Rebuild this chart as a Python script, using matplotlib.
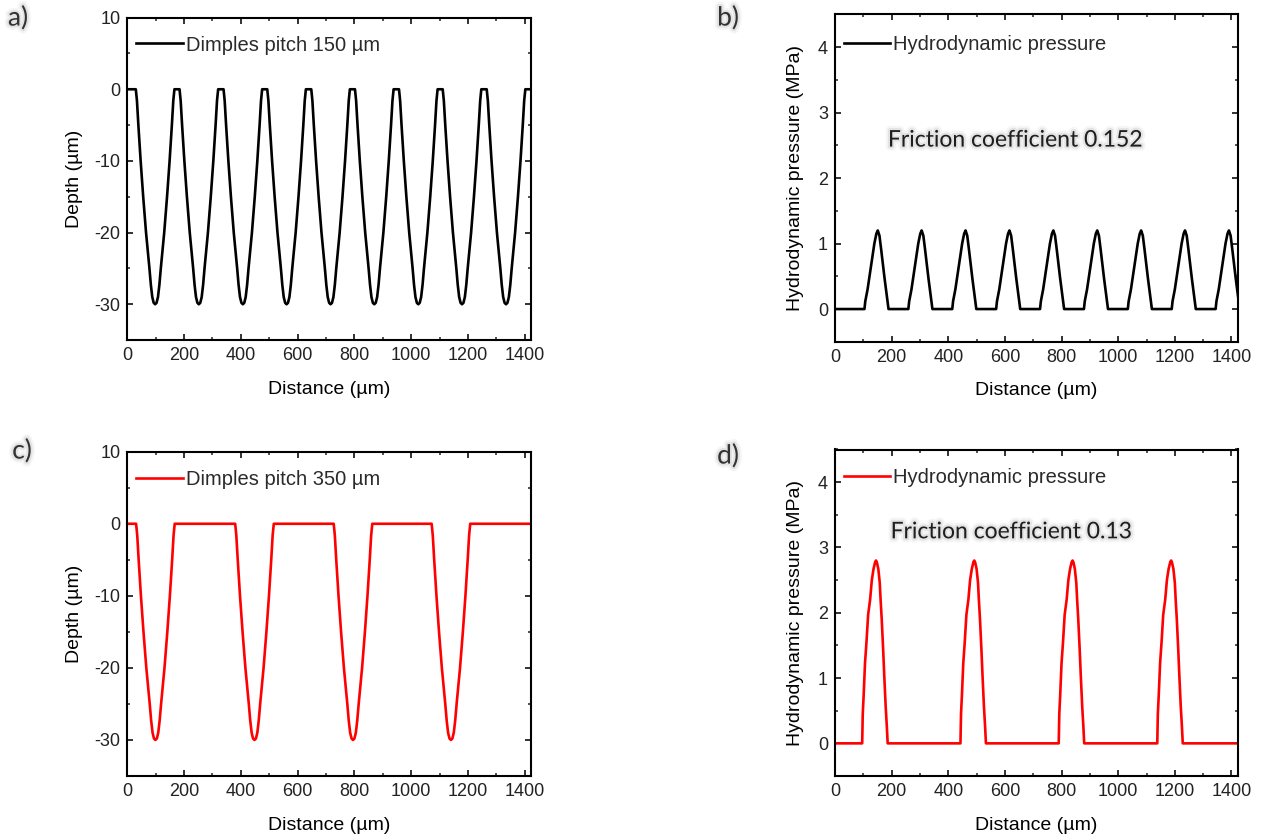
"""Dimple depth profiles and the hydrodynamic pressure they produce (2x2 panels)."""
import matplotlib
matplotlib.use("Agg")
import matplotlib.pyplot as plt
import matplotlib.patheffects as pe
from matplotlib.ticker import MultipleLocator

plt.rcParams.update({
    "font.family": "Liberation Sans",
    "font.size": 13,
    "axes.unicode_minus": False,
    "axes.linewidth": 1.5,
    "xtick.direction": "in", "ytick.direction": "in",
    "xtick.top": True, "ytick.right": True,
    "xtick.major.size": 4, "ytick.major.size": 4,
    "xtick.minor.size": 2.2, "ytick.minor.size": 2.2,
    "xtick.major.width": 1.3, "ytick.major.width": 1.3,
    "xtick.minor.width": 1.1, "ytick.minor.width": 1.1,
    "xtick.labelsize": 13, "ytick.labelsize": 13,
    "xtick.color": "#222222", "ytick.color": "#222222",
})

# one dimple cross-section, offset from centre (um) -> depth (um)
DIMPLE_OFFSET = [-68, -64, -59, -51, -42, -32, -20, -15, -10, -5, 0,
                 5, 10, 15, 20, 32, 42, 51, 59, 64, 68]
DIMPLE_DEPTH = [0, -1.6, -5, -10, -15, -20, -25, -27.3, -29, -29.8, -30,
                -29.8, -29, -27.3, -25, -20, -15, -10, -5, -1.6, 0]

CENTRES_150 = [98, 252, 407, 561, 716, 870, 1025, 1179, 1334]
CENTRES_350 = [99, 448, 795, 1140]

# pressure bump, offset from peak (um) -> MPa
P150_OFFSET = [-47, -44, -36, -24, -12, -5, 0, 6, 12, 24, 38]
P150_VALUE = [0, 0.12, 0.3, 0.65, 1.0, 1.15, 1.2, 1.12, 0.91, 0.47, 0]
PEAKS_150 = [151, 306, 461, 616, 771, 926, 1081, 1236, 1391]

P350_OFFSET = [-49, -47, -44, -39, -34, -28, -21, -15, -9, -3, 0, 3, 8, 13, 16,
               20, 25, 29, 34, 38, 41]
P350_VALUE = [0, 0.45, 0.72, 1.23, 1.54, 1.97, 2.2, 2.5, 2.67, 2.78, 2.8, 2.77,
              2.67, 2.46, 2.2, 1.9, 1.44, 1.03, 0.56, 0.26, 0]
PEAKS_350 = [145, 492, 839, 1187]

X_MAX = 1422
FRICTION = {"b": "0.152", "d": "0.13"}

W, H = 1261, 836


def _series(centres, offsets, values):
    x, y = [0], [0]
    for c in centres:
        x += [c + o for o in offsets]
        y += list(values)
    if x[-1] < X_MAX:
        x.append(X_MAX)
        y.append(0)
    return x, y


def _rect(left, top, right, bottom):
    return [left / W, 1 - bottom / H, (right - left) / W, (bottom - top) / H]


def _style(ax, depth=True):
    ax.set_xlim(0, X_MAX)
    ax.xaxis.set_major_locator(MultipleLocator(200))
    ax.xaxis.set_minor_locator(MultipleLocator(100))
    ax.set_xlabel("Distance (µm)", fontsize=14, labelpad=12)
    if depth:
        ax.set_ylim(-35, 10)
        ax.yaxis.set_major_locator(MultipleLocator(10))
        ax.yaxis.set_minor_locator(MultipleLocator(5))
        ax.set_ylabel("Depth (µm)", fontsize=14, labelpad=8)
    else:
        ax.set_ylim(-0.5, 4.5)
        ax.yaxis.set_major_locator(MultipleLocator(1))
        ax.yaxis.set_minor_locator(MultipleLocator(0.5))
        ax.set_ylabel("Hydrodynamic pressure (MPa)", fontsize=14, labelpad=10)
    ax.tick_params(which="both", pad=5)


def _legend(ax, y):
    ax.legend(loc="center left", bbox_to_anchor=(0.022, y), frameon=False,
              borderpad=0, borderaxespad=0, handlelength=2.3,
              handletextpad=0.15, fontsize=14.5, labelcolor="#2a2a2a")


shadow = [pe.Stroke(linewidth=6, foreground="black", alpha=0.04),
          pe.Stroke(linewidth=3, foreground="black", alpha=0.07),
          pe.Normal()]

fig = plt.figure(figsize=(W / 100, H / 100), dpi=100)
ax_a = fig.add_axes(_rect(127.3, 17.6, 531, 340.1))
ax_b = fig.add_axes(_rect(835, 14.3, 1237.7, 341.8))
ax_c = fig.add_axes(_rect(127.3, 451.7, 531, 776))
ax_d = fig.add_axes(_rect(835, 449.5, 1237.7, 776))

x, y = _series(CENTRES_150, DIMPLE_OFFSET, DIMPLE_DEPTH)
ax_a.plot(x, y, color="black", lw=1.9, label="Dimples pitch 150 µm")
_style(ax_a)
_legend(ax_a, 0.915)

x, y = _series(PEAKS_150, P150_OFFSET, P150_VALUE)
ax_b.plot(x, y, color="black", lw=1.9, label="Hydrodynamic pressure")
_style(ax_b, depth=False)
_legend(ax_b, 0.909)

x, y = _series(CENTRES_350, DIMPLE_OFFSET, DIMPLE_DEPTH)
ax_c.plot(x, y, color="#ff0000", lw=1.9, label="Dimples pitch 350 µm")
_style(ax_c)
_legend(ax_c, 0.913)

x, y = _series(PEAKS_350, P350_OFFSET, P350_VALUE)
ax_d.plot(x, y, color="#ff0000", lw=1.9, label="Hydrodynamic pressure")
_style(ax_d, depth=False)
_legend(ax_d, 0.913)

ax_b.text(636, 2.58, f"Friction coefficient {FRICTION['b']}", family="Lato",
          fontsize=16.5, color="#1e1e1e", ha="center", va="center",
          path_effects=shadow)
ax_d.text(622, 3.24, f"Friction coefficient {FRICTION['d']}", family="Lato",
          fontsize=16.5, color="#1e1e1e", ha="center", va="center",
          path_effects=shadow)

for lab, (px, py) in {"a)": (18, 18), "b)": (728, 18),
                      "c)": (22, 451), "d)": (728, 456)}.items():
    fig.text(px / W, 1 - py / H, lab, family="Lato", fontsize=19,
             color="#333333", ha="center", va="center", path_effects=shadow)

fig.savefig("out.png", dpi=100)
